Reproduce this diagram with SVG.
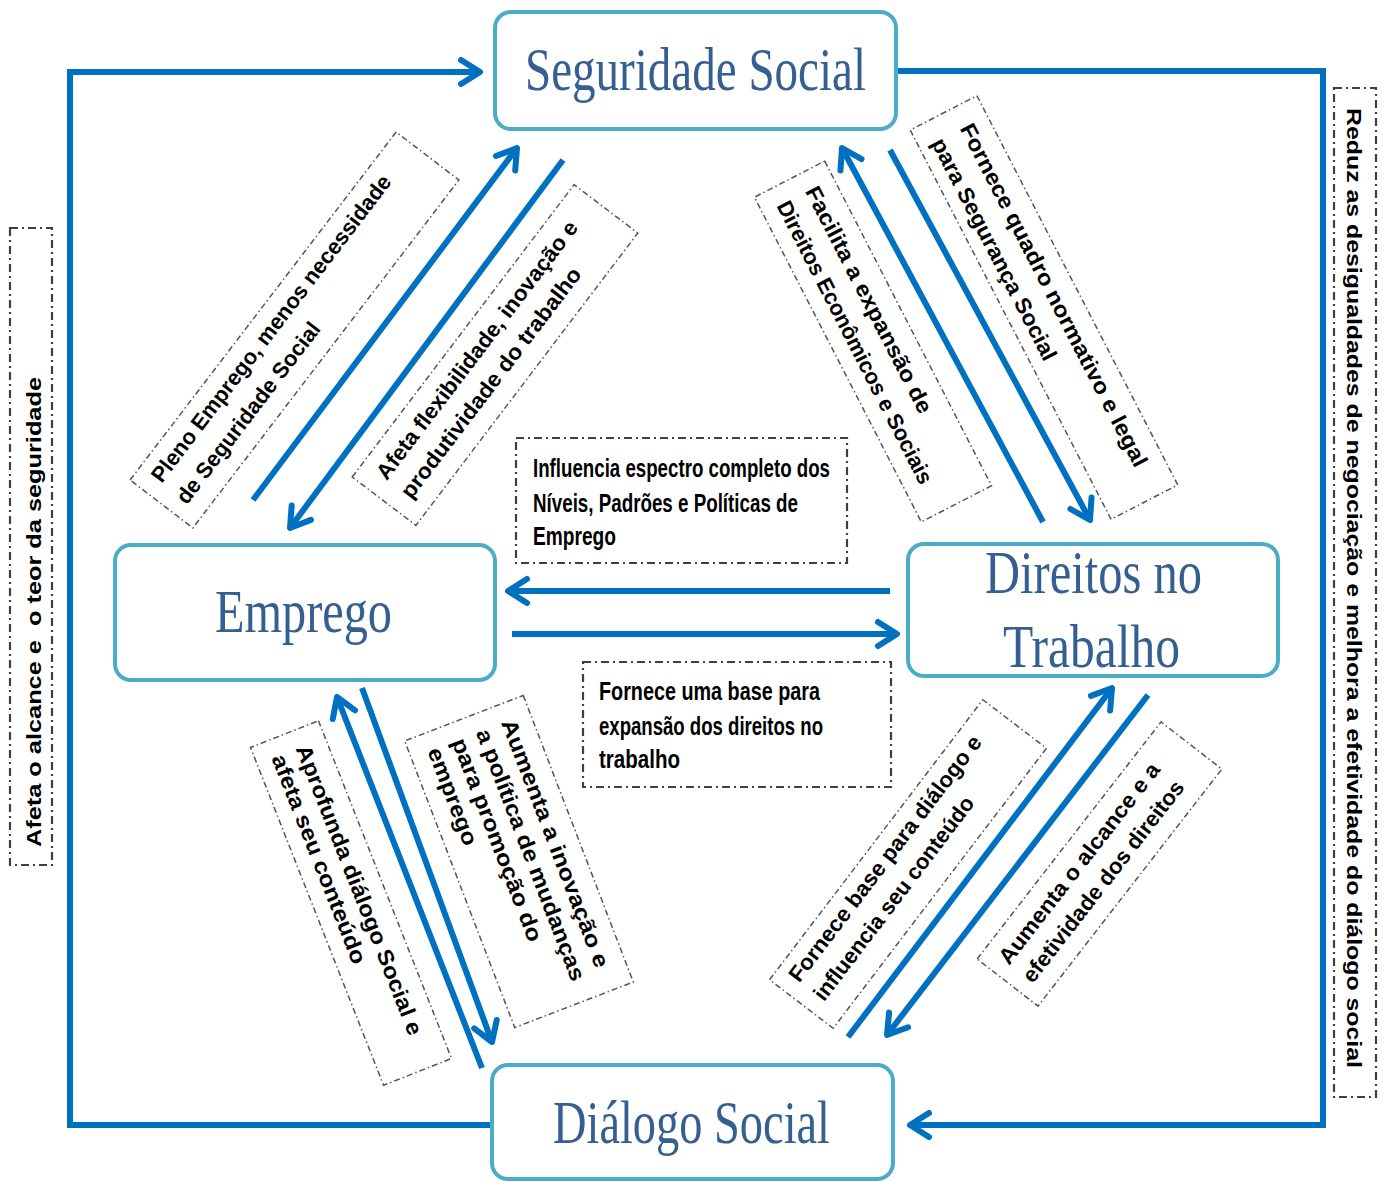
<svg xmlns="http://www.w3.org/2000/svg" width="1385" height="1182" viewBox="0 0 1385 1182">
<style>
.node rect{fill:#fff;stroke:#4bacc6;stroke-width:4}
.ntxt{font-family:"Liberation Serif","Times New Roman",serif;font-size:62px;fill:#365f91}
.lbl{font-family:"Liberation Sans",Arial,sans-serif;font-weight:bold;font-size:22px;fill:#000}
.vl{font-family:"Liberation Sans",Arial,sans-serif;font-weight:bold;font-size:20px;fill:#000}
.hl{font-family:"Liberation Sans",Arial,sans-serif;font-weight:bold;font-size:25px;fill:#000}
.dbox{fill:none;stroke:#555;stroke-width:1.5;stroke-dasharray:6 3 1.5 3}
.hbox{fill:none;stroke:#404040;stroke-width:2.2;stroke-dasharray:8 4 2 4}
.conn{fill:none;stroke:#0070c0;stroke-width:6;marker-end:url(#ah)}
.frame{fill:none;stroke:#0070c0;stroke-width:6}
</style>
<defs>
<marker id="ah" markerUnits="userSpaceOnUse" markerWidth="40" markerHeight="40" viewBox="-30 -20 40 40" refX="0" refY="0" orient="auto" overflow="visible">
<path d="M -19 -12 L 0 0 L -19 12" fill="none" stroke="#0070c0" stroke-width="6" stroke-linecap="round" stroke-linejoin="round"/>
</marker>
</defs>
<rect width="1385" height="1182" fill="#fff"/>

<g id="connectors">
<polyline class="frame" points="492,1125 70,1125 70,72 480,72" marker-end="url(#ah)"/>
<polyline class="frame" points="896,71 1323,71 1323,1125 910,1125" marker-end="url(#ah)"/>
<line class="conn" x1="253" y1="500" x2="517" y2="148"/>
<line class="conn" x1="563" y1="160" x2="290" y2="528"/>
<line class="conn" x1="1043" y1="522" x2="842" y2="148"/>
<line class="conn" x1="890" y1="150" x2="1090" y2="520"/>
<line class="conn" x1="482" y1="1068" x2="337" y2="697"/>
<line class="conn" x1="362" y1="688" x2="492" y2="1042"/>
<line class="conn" x1="848" y1="1037" x2="1112" y2="688"/>
<line class="conn" x1="1148" y1="695" x2="887" y2="1035"/>
<line class="conn" x1="890" y1="591" x2="508" y2="591"/>
<line class="conn" x1="512" y1="634" x2="897" y2="634"/>
</g>

<g id="node-seguridade" class="node">
<rect x="495" y="12" width="401" height="117" rx="16"/>
<text class="ntxt" x="525" y="90" textLength="341" lengthAdjust="spacingAndGlyphs">Seguridade Social</text>
</g>
<g id="node-emprego" class="node">
<rect x="115" y="545" width="380" height="135" rx="16"/>
<text class="ntxt" x="215" y="632" textLength="177" lengthAdjust="spacingAndGlyphs">Emprego</text>
</g>
<g id="node-direitos" class="node">
<rect x="908" y="544" width="370" height="132" rx="16"/>
<text class="ntxt" x="985" y="593" textLength="217" lengthAdjust="spacingAndGlyphs">Direitos no</text>
<text class="ntxt" x="1003" y="667" textLength="177" lengthAdjust="spacingAndGlyphs">Trabalho</text>
</g>
<g id="node-dialogo" class="node">
<rect x="492" y="1065" width="401" height="114" rx="16"/>
<text class="ntxt" x="553" y="1143" textLength="277" lengthAdjust="spacingAndGlyphs">Diálogo Social</text>
</g>

<g id="label-pleno" transform="translate(294.5,330) rotate(-52.6)">
<rect class="dbox" x="-219" y="-39.5" width="438" height="79"/>
<text class="lbl" x="-203" y="-12" textLength="380" lengthAdjust="spacingAndGlyphs">Pleno Emprego, menos necessidade</text>
<text class="lbl" x="-205" y="21" textLength="222" lengthAdjust="spacingAndGlyphs">de Seguridade Social</text>
</g>
<g id="label-afeta-flex" transform="translate(495,355) rotate(-52.8)">
<rect class="dbox" x="-183.5" y="-40" width="367" height="80"/>
<text class="lbl" x="-166" y="-10" textLength="318" lengthAdjust="spacingAndGlyphs">Afeta flexibilidade, inovação e</text>
<text class="lbl" x="-166" y="21" textLength="283" lengthAdjust="spacingAndGlyphs">produtividade do trabalho</text>
</g>
<g id="label-facilita" transform="translate(873,341.5) rotate(62.8)">
<rect class="dbox" x="-182.5" y="-39.5" width="365" height="79"/>
<text class="lbl" x="-165" y="-8" textLength="252" lengthAdjust="spacingAndGlyphs">Facilita a expansão de</text>
<text class="lbl" x="-165" y="24" textLength="315" lengthAdjust="spacingAndGlyphs">Direitos Econômicos e Sociais</text>
</g>
<g id="label-fornece-quadro" transform="translate(1044,307.5) rotate(62.7)">
<rect class="dbox" x="-219" y="-37.5" width="438" height="75"/>
<text class="lbl" x="-198" y="-7" textLength="383" lengthAdjust="spacingAndGlyphs">Fornece quadro normativo e legal</text>
<text class="lbl" x="-198" y="25" textLength="247" lengthAdjust="spacingAndGlyphs">para Segurança Social</text>
</g>
<g id="label-aprofunda" transform="translate(351,903) rotate(68.5)">
<rect class="dbox" x="-181.5" y="-36.5" width="363" height="73"/>
<text class="lbl" x="-164" y="-5" textLength="310" lengthAdjust="spacingAndGlyphs">Aprofunda diálogo Social e</text>
<text class="lbl" x="-164" y="21" textLength="223" lengthAdjust="spacingAndGlyphs">afeta seu conteúdo</text>
</g>
<g id="label-aumenta-inovacao" transform="translate(519,861.5) rotate(69)">
<rect class="dbox" x="-153.5" y="-63.5" width="307" height="127"/>
<text class="lbl" x="-136" y="-33" textLength="264" lengthAdjust="spacingAndGlyphs">Aumenta a inovação e</text>
<text class="lbl" x="-136" y="-6" textLength="268" lengthAdjust="spacingAndGlyphs">a política de mudanças</text>
<text class="lbl" x="-136" y="20" textLength="216" lengthAdjust="spacingAndGlyphs">para promoção do</text>
<text class="lbl" x="-136" y="46" textLength="103" lengthAdjust="spacingAndGlyphs">emprego</text>
</g>
<g id="label-fornece-base" transform="translate(908,864) rotate(-52.7)">
<rect class="dbox" x="-176" y="-40" width="352" height="80"/>
<text class="lbl" x="-161" y="-14" textLength="303" lengthAdjust="spacingAndGlyphs">Fornece base para diálogo e</text>
<text class="lbl" x="-161" y="17" textLength="250" lengthAdjust="spacingAndGlyphs">influencia seu conteúdo</text>
</g>
<g id="label-aumenta-alcance" transform="translate(1099.5,864) rotate(-52.2)">
<rect class="dbox" x="-150" y="-38.5" width="300" height="77"/>
<text class="lbl" x="-136" y="-9" textLength="248" lengthAdjust="spacingAndGlyphs">Aumenta o alcance e a</text>
<text class="lbl" x="-136" y="21" textLength="249" lengthAdjust="spacingAndGlyphs">efetividade dos direitos</text>
</g>

<g id="label-influencia">
<rect class="hbox" x="516" y="438" width="331" height="125"/>
<text class="hl" x="533" y="477" textLength="297" lengthAdjust="spacingAndGlyphs">Influencia espectro completo dos</text>
<text class="hl" x="533" y="512" textLength="265" lengthAdjust="spacingAndGlyphs">Níveis, Padrões e Políticas de</text>
<text class="hl" x="533" y="545" textLength="83" lengthAdjust="spacingAndGlyphs">Emprego</text>
</g>
<g id="label-fornece-uma-base">
<rect class="hbox" x="583" y="662" width="308" height="125"/>
<text class="hl" x="599" y="700" textLength="221" lengthAdjust="spacingAndGlyphs">Fornece uma base para</text>
<text class="hl" x="599" y="735" textLength="224" lengthAdjust="spacingAndGlyphs">expansão dos direitos no</text>
<text class="hl" x="599" y="768" textLength="81" lengthAdjust="spacingAndGlyphs">trabalho</text>
</g>

<g id="label-afeta-alcance">
<rect class="hbox" x="10" y="228" width="42" height="637"/>
<text class="vl" x="0" y="0" transform="translate(41,847) rotate(-90)" textLength="470" lengthAdjust="spacingAndGlyphs" xml:space="preserve">Afeta o alcance e  o teor da seguridade</text>
</g>
<g id="label-reduz">
<rect class="hbox" x="1334" y="88" width="42" height="1009"/>
<text class="vl" x="0" y="0" transform="translate(1347,108) rotate(90)" textLength="960" lengthAdjust="spacingAndGlyphs">Reduz as desigualdades de negociação e melhora a efetividade do diálogo social</text>
</g>
</svg>
